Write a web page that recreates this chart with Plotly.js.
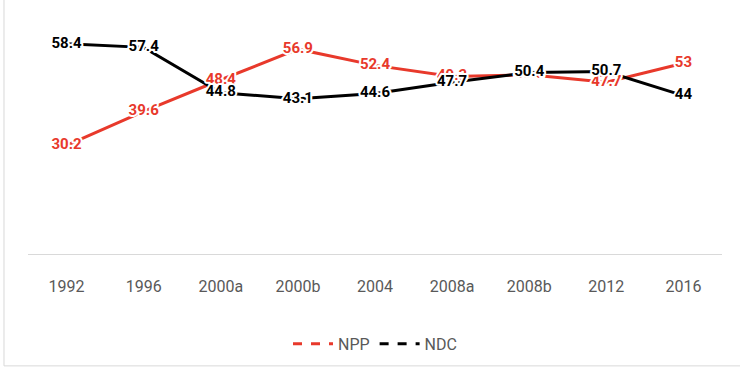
<!DOCTYPE html>
<html><head><meta charset="utf-8">
<script src="https://cdn.plot.ly/plotly-3.0.1.min.js"></script>
<style>
html,body{margin:0;padding:0;background:#fff}
#chart{width:740px;height:376px}
#chart .scatterlayer text{stroke:#fff !important;stroke-width:4px !important;stroke-linejoin:round;paint-order:stroke fill !important}
</style>
</head><body><div id="chart"></div>
<script>
const categories = ["1992","1996","2000a","2000b","2004","2008a","2008b","2012","2016"];
const nppValues = [30.2, 39.6, 48.4, 56.9, 52.4, 49.3, 49.8, 47.7, 53];
const ndcValues = [58.4, 57.4, 44.8, 43.1, 44.6, 47.7, 50.4, 50.7, 44];
const nppColor = "#E8392B";
const ndcColor = "#000000";
const fontFam = "Roboto, sans-serif";

const traces = [
  {x: categories, y: nppValues, type: "scatter", mode: "lines", name: "NPP",
   line: {color: nppColor, width: 3}, showlegend: false},
  {x: categories, y: ndcValues, type: "scatter", mode: "lines", name: "NDC",
   line: {color: ndcColor, width: 3}, showlegend: false},
  {x: categories, y: nppValues, type: "scatter", mode: "text", name: "NPP",
   text: nppValues.map(String), textposition: "middle center",
   textfont: {family: fontFam, size: 15, color: nppColor, weight: "bold"},
   showlegend: false, cliponaxis: false},
  {x: categories, y: ndcValues, type: "scatter", mode: "text", name: "NDC",
   text: ndcValues.map(String), textposition: "middle center",
   textfont: {family: fontFam, size: 15, color: ndcColor, weight: "bold"},
   showlegend: false, cliponaxis: false},
  {x: [null], y: [null], type: "scatter", mode: "lines", name: "NPP",
   line: {color: nppColor, width: 3, dash: "dash"}},
  {x: [null], y: [null], type: "scatter", mode: "lines", name: "NDC",
   line: {color: ndcColor, width: 3, dash: "dash"}}
];

const layout = {
  width: 740, height: 376,
  margin: {l: 28, r: 18, t: 2, b: 122},
  paper_bgcolor: "#fff", plot_bgcolor: "#fff",
  showlegend: true,
  legend: {orientation: "h", x: 0.5, xanchor: "center", y: -0.357, yanchor: "middle",
    font: {family: fontFam, size: 16, color: "#595959"}, itemwidth: 40, tracegroupgap: 0},
  xaxis: {type: "category", range: [-0.5, 8.5], showgrid: false, zeroline: false,
    showline: true, linecolor: "#d9d9d9", linewidth: 1, ticks: "",
    ticklabelstandoff: 18,
    tickfont: {family: fontFam, size: 16, color: "#595959"}, fixedrange: true},
  yaxis: {range: [0, 70], visible: false, showgrid: false, zeroline: false, fixedrange: true},
  shapes: [
    {type: "line", xref: "paper", yref: "paper", x0: -0.0346, x1: -0.0346, y0: -0.444, y1: 1.01,
     line: {color: "#d9d9d9", width: 1}},
    {type: "line", xref: "paper", yref: "paper", x0: -0.0346, x1: 1.03, y0: -0.444, y1: -0.444,
     line: {color: "#d9d9d9", width: 1}}
  ]
};
Plotly.newPlot("chart", traces, layout, {displayModeBar: false, staticPlot: true});
</script></body></html>
